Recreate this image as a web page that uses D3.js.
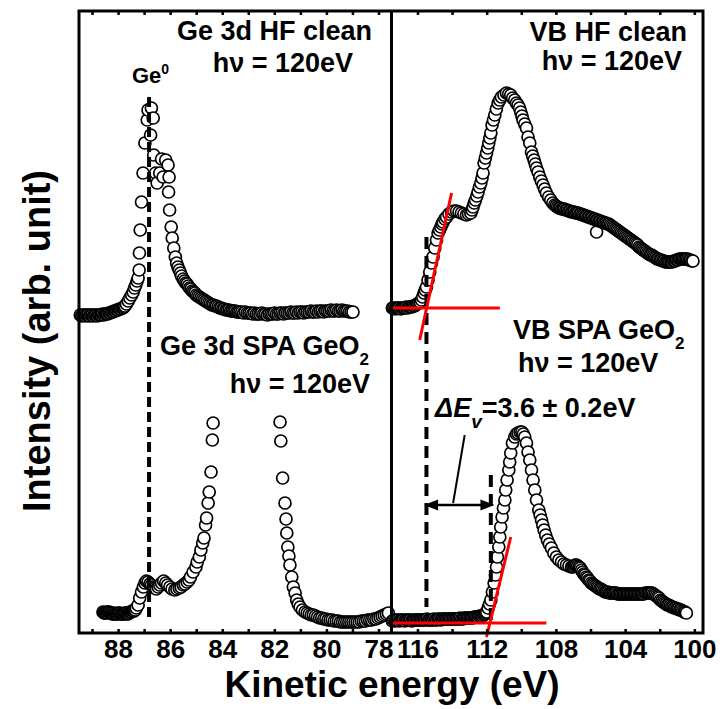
<!DOCTYPE html>
<html>
<head>
<meta charset="utf-8">
<script src="https://cdn.jsdelivr.net/npm/d3@7"></script>
<style>
body { margin: 0; background: #fff; }
text { font-family: "Liberation Sans", Arial, sans-serif; font-weight: bold; fill: #000; }
</style>
</head>
<body>
<svg id="chart" width="722" height="709"></svg>
<script>
// spectra: [kinetic energy (eV), intensity (arb.)]
var ge3dHF = [[89.45,318],[89.40,317],[89.35,318],[89.30,318],[89.25,317],[89.20,318],[89.15,318],[89.10,317],[89.05,318],[89.00,318],
  [88.95,317],[88.90,318],[88.85,318],[88.80,317],[88.75,318],[88.70,318],[88.65,318],[88.60,319],[88.55,318],[88.50,319],
  [88.45,319],[88.40,319],[88.35,320],[88.30,320],[88.25,321],[88.20,321],[88.15,322],[88.10,322],[88.05,323],[88.00,323],
  [87.95,324],[87.90,324],[87.85,325],[87.81,325],[87.77,326],[87.74,327],[87.68,329],[87.61,332],
  [87.55,335],[87.48,338],[87.42,341],[87.37,345],[87.32,348],[87.27,352],[87.23,355],[87.19,363],[87.18,380],[87.15,403],
  [87.10,431],[87.04,460],[86.97,490],[86.88,513],[86.85,523],[86.72,525],[86.65,515],[86.75,498],[86.63,478],[86.56,460],
  [86.50,450],[86.40,460],[86.33,474],[86.27,456],[86.17,473],[86.08,468],[86.04,456],[86.06,441],[86.02,423],[85.96,406],
  [85.92,395],[85.86,385],[85.80,376],[85.75,370],[85.70,366],[85.65,363],[85.60,360],[85.56,357],
  [85.50,354],[85.45,352],[85.40,350],[85.35,349],[85.30,347],[85.25,345],[85.20,344],[85.15,342],[85.10,341],[85.05,340],
  [85.00,338],[84.94,337],[84.88,336],[84.82,335],[84.76,334],[84.70,333],[84.64,332],[84.58,331],[84.52,330],[84.46,329],
  [84.40,328],[84.34,328],[84.28,327],[84.22,327],[84.16,326],[84.10,325],[84.04,325],[83.98,324],[83.92,324],[83.86,323],
  [83.80,323],[83.74,323],[83.68,322],[83.62,322],[83.56,322],[83.50,322],[83.44,321],[83.38,321],[83.32,321],[83.25,321],
  [83.18,320],[83.11,321],[83.04,320],[82.97,320],[82.90,320],[82.83,319],[82.76,320],[82.69,319],[82.62,319],[82.55,319],
  [82.48,320],[82.41,319],[82.34,319],[82.27,318],[82.20,319],[82.13,319],[82.06,319],[81.99,320],[81.92,319],[81.85,319],
  [81.78,320],[81.71,320],[81.64,319],[81.57,320],[81.50,320],[81.43,320],[81.36,321],[81.29,320],[81.22,320],[81.15,321],
  [81.08,320],[81.01,321],[80.94,321],[80.87,320],[80.80,321],[80.73,321],[80.66,321],[80.59,322],[80.52,321],[80.45,321],
  [80.38,322],[80.31,321],[80.24,322],[80.17,322],[80.10,321],[80.03,322],[79.96,322],[79.89,322],[79.82,323],[79.75,322],
  [79.68,322],[79.61,323],[79.54,322],[79.47,322],[79.40,323],[79.33,322],[79.26,322],[79.19,322],[79.12,321],[79.05,321],
  [78.98,321]];

var ge3dSPA = [[88.58,21],[88.54,20],[88.50,20],[88.46,21],[88.42,20],[88.38,21],[88.34,21],[88.30,20],[88.26,20],[88.22,19],
  [88.18,19],[88.14,20],[88.10,19],[88.06,19],[88.02,19],[87.98,20],[87.94,20],[87.90,19],[87.86,19],[87.82,19],
  [87.78,19],[87.74,20],[87.70,20],[87.66,19],[87.62,19],[87.58,20],[87.54,21],[87.50,21],[87.46,22],[87.42,22],
  [87.38,22],[87.34,23],[87.30,25],[87.23,28],[87.17,35],[87.10,41],
  [87.03,46],[86.97,50],[86.91,52],[86.85,51],[86.78,49],[86.72,48],[86.65,46],[86.59,45],[86.53,44],[86.46,46],
  [86.40,48],[86.33,50],[86.25,52],[86.17,50],[86.10,48],[86.01,46],[85.93,44],[85.82,43],[85.74,44],[85.65,45],
  [85.58,46],[85.50,48],[85.43,49],[85.35,51],[85.28,53],[85.22,56],[85.12,61],[85.01,66],[84.96,71],[84.88,76],
  [84.82,83],[84.75,90],[84.70,95],[84.64,108],[84.60,115],[84.54,130],[84.50,141],[84.43,161],[84.38,193],[84.35,210],
  [81.78,211],[81.75,192],[81.68,155],[81.59,130],[81.55,114],[81.52,100],[81.48,86],[81.44,77],[81.40,68],[81.33,56],
  [81.27,46],[81.20,40],[81.14,33],[81.08,29],[81.01,26],[80.92,23],[80.82,21],[80.74,20],[80.66,19],[80.58,18],
  [80.50,18],[80.42,17],[80.34,16],[80.26,15],[80.18,15],[80.10,14],[80.02,14],[79.94,13],[79.86,13],[79.78,13],
  [79.70,12],[79.62,12],[79.54,12],[79.46,11],[79.38,11],[79.30,11],[79.22,11],[79.14,11],[79.06,11],[78.98,11],
  [78.90,11],[78.82,11],[78.74,11],[78.66,12],[78.58,12],[78.50,12],[78.42,13],[78.34,13],[78.26,13],[78.18,14],
  [78.10,14],[78.02,15],[77.94,16],[77.86,17],[77.78,18],[77.70,19],[77.62,20]];

var vbHF = [[117.45,325],[117.37,325],[117.29,324],[117.21,325],[117.13,325],[117.05,325],[116.97,324],[116.89,325],[116.81,325],[116.73,325],
  [116.65,326],[116.57,325],[116.49,326],[116.41,326],[116.33,326],[116.25,327],[116.17,327],[116.09,328],[116.01,329],[115.93,330],
  [115.85,331],[115.77,333],[115.70,336],[115.62,340],[115.55,343],
  [115.48,346],[115.39,353],[115.29,361],[115.19,370],[115.10,376],[115.00,385],[114.90,393],[114.81,400],[114.73,403],[114.65,406],
  [114.58,409],[114.52,411],[114.42,414],[114.32,416],[114.18,419],[114.03,421],[113.88,422],[113.74,422],[113.60,421],[113.46,420],
  [113.32,419],[113.17,418],[113.05,419],[112.92,420],[112.85,423],[112.79,426],[112.72,430],[112.65,433],[112.57,437],[112.50,441],
  [112.42,446],[112.34,450],[112.27,455],[112.21,460],[112.15,470],[112.08,475],[112.01,480],[111.94,485],[111.88,490],[111.82,495],
  [111.76,500],[111.69,508],[111.61,513],[111.53,518],[111.44,524],[111.34,530],[111.25,533],[111.15,536],[111.00,538],[110.86,540],
  [110.73,539],[110.61,538],[110.50,535],[110.38,533],[110.28,530],[110.19,528],[110.10,525],[110.03,521],[109.96,517],[109.90,513],
  [109.80,509],[109.70,505],[109.61,496],[109.51,490],[109.41,481],[109.34,477],[109.26,473],[109.19,469],[109.12,465],[109.03,461],
  [108.93,456],[108.84,452],[108.74,448],[108.65,444],[108.55,440],[108.42,436],[108.30,433],[108.18,430],[108.07,428],[107.99,427],
  [107.91,426],[107.83,425],[107.75,425],[107.67,424],[107.59,424],[107.51,424],[107.43,423],[107.35,423],[107.27,422],[107.19,422],
  [107.11,421],[107.03,421],[106.95,421],[106.87,420],[106.79,420],[106.71,420],[106.63,419],[106.55,419],[106.47,418],[106.39,418],
  [106.31,417],[106.23,417],[106.15,416],[106.07,416],[105.99,415],[105.91,415],[105.83,414],[105.75,414],[105.65,401],[105.67,413],
  [105.59,413],[105.51,412],[105.43,412],[105.35,411],[105.27,411],[105.19,410],[105.11,410],[105.03,409],[104.95,409],[104.87,408],
  [104.79,407],[104.71,406],[104.63,405],[104.55,404],[104.47,403],[104.39,402],[104.31,401],[104.23,400],[104.15,399],[104.07,398],
  [103.99,397],[103.91,396],[103.83,395],[103.75,394],[103.67,393],[103.59,392],[103.51,391],[103.43,390],[103.35,389],[103.27,388],
  [103.19,386],[103.11,385],[103.03,384],[102.95,383],[102.87,382],[102.79,381],[102.71,380],[102.63,379],[102.55,378],[102.47,378],
  [102.39,377],[102.31,376],[102.23,375],[102.15,374],[102.07,374],[101.99,373],[101.91,373],[101.83,372],[101.75,372],[101.67,371],
  [101.59,371],[101.51,371],[101.43,371],[101.35,371],[101.27,371],[101.19,372],[101.11,372],[101.03,373],[100.95,373],[100.87,374],
  [100.79,374],[100.71,374],[100.63,374],[100.55,374],[100.47,374],[100.39,374],[100.31,373],[100.23,373],[100.15,372],[100.08,372]];

var vbSPA = [[117.45,12],[117.37,13],[117.29,12],[117.21,13],[117.13,13],[117.05,12],[116.97,13],[116.89,13],[116.81,13],[116.73,12],
  [116.65,13],[116.57,13],[116.49,13],[116.41,13],[116.33,12],[116.25,13],[116.17,13],[116.09,13],[116.01,13],[115.93,13],
  [115.85,13],[115.77,13],[115.69,13],[115.61,13],[115.53,13],[115.45,14],[115.37,13],[115.29,13],[115.21,13],[115.13,13],
  [115.05,14],[114.97,13],[114.89,13],[114.81,14],[114.73,14],[114.65,13],[114.57,14],[114.49,14],[114.41,14],[114.33,14],
  [114.25,14],[114.17,14],[114.09,14],[114.01,14],[113.93,14],[113.85,14],[113.77,14],[113.69,14],[113.61,14],[113.53,15],
  [113.45,14],[113.37,14],[113.29,15],[113.21,15],[113.13,15],[113.05,15],[112.97,15],[112.89,15],[112.81,15],[112.73,16],
  [112.65,16],[112.57,16],[112.49,16],[112.41,17],[112.33,17],[112.25,17],[112.17,18],[112.11,19],[112.05,20],[112.00,21],
  [111.92,25],[111.84,29],
  [111.76,33],[111.67,41],[111.57,50],[111.49,58],[111.43,66],[111.38,76],[111.30,86],[111.24,96],[111.19,106],[111.11,116],
  [111.03,125],[110.95,133],[110.90,143],[110.82,153],[110.72,163],[110.67,171],[110.61,180],[110.51,190],[110.38,196],[110.28,199],
  [110.19,200],[110.07,201],[109.97,201],[109.88,199],[109.80,196],[109.70,190],[109.61,181],[109.51,173],[109.41,163],[109.32,153],
  [109.22,143],[109.12,133],[108.99,123],[108.91,118],[108.83,113],[108.76,108],[108.68,103],[108.59,98],[108.49,93],[108.38,89],
  [108.26,85],[108.12,80],[107.97,76],[107.83,73],[107.68,71],[107.54,69],[107.39,68],[107.25,67],[107.10,66],[107.02,66],
  [106.95,67],[106.88,68],[106.81,68],[106.74,67],[106.66,66],[106.59,65],[106.52,63],[106.45,61],[106.38,59],[106.31,58],
  [106.24,56],[106.17,55],[106.10,53],[106.03,52],[105.95,50],[105.87,49],[105.79,48],[105.71,47],[105.63,46],[105.56,45],
  [105.48,44],[105.40,44],[105.32,43],[105.24,42],[105.16,41],[105.08,41],[105.00,41],[104.92,40],[104.84,40],[104.76,40],
  [104.68,40],[104.60,40],[104.52,40],[104.44,39],[104.36,39],[104.28,39],[104.20,39],[104.12,39],[104.04,39],[103.96,39],
  [103.88,39],[103.80,39],[103.72,39],[103.64,39],[103.56,39],[103.48,39],[103.40,39],[103.32,39],[103.24,39],[103.16,39],
  [103.08,39],[103.00,39],[102.92,39],[102.84,40],[102.76,40],[102.68,40],[102.60,40],[102.52,40],[102.44,40],[102.36,39],
  [102.28,38],[102.20,37],[102.12,36],[102.04,35],[101.96,33],[101.88,32],[101.80,31],[101.72,30],[101.64,29],[101.56,28],
  [101.48,28],[101.40,27],[101.32,26],[101.24,26],[101.16,25],[101.08,25],[101.00,24],[100.92,24],[100.84,23],[100.76,23],
  [100.68,22],[100.60,21],[100.53,21],[100.46,20]];

var leftTicks = [89, 88, 87, 86, 85, 84, 83, 82, 81, 80, 79, 78];
var leftLabels = [88, 86, 84, 82, 80, 78];
var rightTicks = [116, 114, 112, 110, 108, 106, 104, 102, 100];
var rightLabels = [116, 112, 108, 104, 100];

var svg = d3.select("#chart");
var top_ = 11, bottom = 633, left = 79, mid = 391.5, right = 703;

var xL = d3.scaleLinear().domain([89.5, 77.5]).range([left, mid]);
var xR = d3.scaleLinear().domain([117.5, 99.5]).range([mid, right]);
var y = d3.scaleLinear().domain([0, 622]).range([bottom, top_]);

function drawPoints(data, x){
    svg.append("g")
    .selectAll("circle")
    .data(data)
    .enter()
    .append("circle")
    .attr("cx", function(d){ return x(d[0]); })
    .attr("cy", function(d){ return y(d[1]); })
    .attr("r", 6)
    .style("fill", "#fff")
    .attr("stroke", "#000")
    .attr("stroke-width", 1.7);
}
drawPoints(ge3dHF, xL);
drawPoints(ge3dSPA, xL);
drawPoints(vbHF, xR);
drawPoints(vbSPA, xR);

// dashed guide lines
function vline(x, e, i0, i1, dash){
    svg.append("line")
    .attr("x1", x(e)).attr("x2", x(e))
    .attr("y1", y(i0)).attr("y2", y(i1))
    .attr("stroke", "#000").attr("stroke-width", 4)
    .attr("stroke-dasharray", dash);
}
vline(xL, 86.81, 536, 15, "10,5");
vline(xR, 115.48, 396, 26, "12,7");
vline(xR, 111.76, 158, 10, "12,7");

// red onset fits
function seg(x, a, b, color, w){
    svg.append("line")
    .attr("x1", x(a[0])).attr("y1", y(a[1]))
    .attr("x2", x(b[0])).attr("y2", y(b[1]))
    .attr("stroke", color).attr("stroke-width", w);
}
seg(xR, [117.5, 325], [111.24, 325], "#ff0000", 3);
seg(xR, [114.03, 440], [115.87, 293], "#ff0000", 3);
seg(xR, [117.5, 10], [108.55, 10], "#ff0000", 3);
seg(xR, [110.61, 96], [112.01, -4], "#ff0000", 3);

// delta Ev arrow
var ax0 = xR(115.62), ax1 = xR(111.55), ay = y(128);
svg.append("line").attr("x1", ax0 + 10).attr("x2", ax1 - 10)
    .attr("y1", ay).attr("y2", ay).attr("stroke", "#000").attr("stroke-width", 2.5);
svg.append("path").attr("d", "M" + ax0 + "," + ay + "l14,-5.5l0,11z").attr("fill", "#000");
svg.append("path").attr("d", "M" + ax1 + "," + ay + "l-14,-5.5l0,11z").attr("fill", "#000");
seg(xR, [113.27, 198], [113.94, 130], "#000", 2);

// frame and axes
svg.append("rect").attr("x", left).attr("y", top_).attr("width", right - left).attr("height", bottom - top_)
    .attr("fill", "none").attr("stroke", "#000").attr("stroke-width", 3);
svg.append("line").attr("x1", mid).attr("x2", mid).attr("y1", top_).attr("y2", bottom)
    .attr("stroke", "#000").attr("stroke-width", 3);

function axes(x, ticks, labels){
    var gb = svg.append("g").attr("transform", "translate(0," + bottom + ")")
        .call(d3.axisBottom(x).tickValues(ticks).tickSize(-4).tickPadding(7)
        .tickFormat(function(d){ return labels.indexOf(d) >= 0 ? d : ""; }));
    gb.select(".domain").remove();
    gb.selectAll("line").attr("stroke-width", 2.5);
    gb.selectAll("text").style("font-size", "26px").style("font-family", "'Liberation Sans', Arial, sans-serif")
        .style("font-weight", "bold").attr("fill", "#000");
    var gt = svg.append("g").attr("transform", "translate(0," + top_ + ")")
        .call(d3.axisTop(x).tickValues(ticks).tickSize(-4).tickFormat(""));
    gt.select(".domain").remove();
    gt.selectAll("line").attr("stroke-width", 2.5);
}
axes(xL, leftTicks, leftLabels);
axes(xR, rightTicks, rightLabels);

// texts
function label(x, yy, anchor, size, parts){
    var t = svg.append("text").attr("x", x).attr("y", yy).attr("text-anchor", anchor).style("font-size", size + "px");
    parts.forEach(function(p){
        var s = t.append("tspan").text(p.t);
        if (p.dy) s.attr("dy", p.dy);
        if (p.size) s.style("font-size", p.size + "px");
        if (p.italic) s.style("font-style", "italic");
    });
    return t;
}
label(372, 40, "end", 27, [{t: "Ge 3d HF clean"}]);
label(353, 72, "end", 27, [{t: "h\u03bd = 120eV"}]);
label(132, 83, "start", 22, [{t: "Ge"}, {t: "0", size: 14, dy: -9}]);
label(687, 41, "end", 27, [{t: "VB HF clean"}]);
label(682, 70, "end", 27, [{t: "h\u03bd = 120eV"}]);
label(160, 355, "start", 27, [{t: "Ge 3d SPA GeO"}, {t: "2", size: 17, dy: 10}]);
label(370, 393, "end", 27, [{t: "h\u03bd = 120eV"}]);
label(513, 339, "start", 27, [{t: "VB SPA GeO"}, {t: "2", size: 17, dy: 10}]);
label(518, 372, "start", 27, [{t: "h\u03bd = 120eV"}]);
label(435, 417, "start", 27, [{t: "\u0394E", italic: true}, {t: "v", italic: true, size: 19, dy: 11},
    {t: "=3.6 \u00b1 0.2eV", dy: -11}]);

svg.append("text").attr("x", 392).attr("y", 697).attr("text-anchor", "middle")
    .style("font-size", "37px").text("Kinetic energy (eV)");
svg.append("text").attr("transform", "translate(50,341) rotate(-90)").attr("text-anchor", "middle")
    .style("font-size", "38px").text("Intensity (arb. unit)");
</script>
</body>
</html>
